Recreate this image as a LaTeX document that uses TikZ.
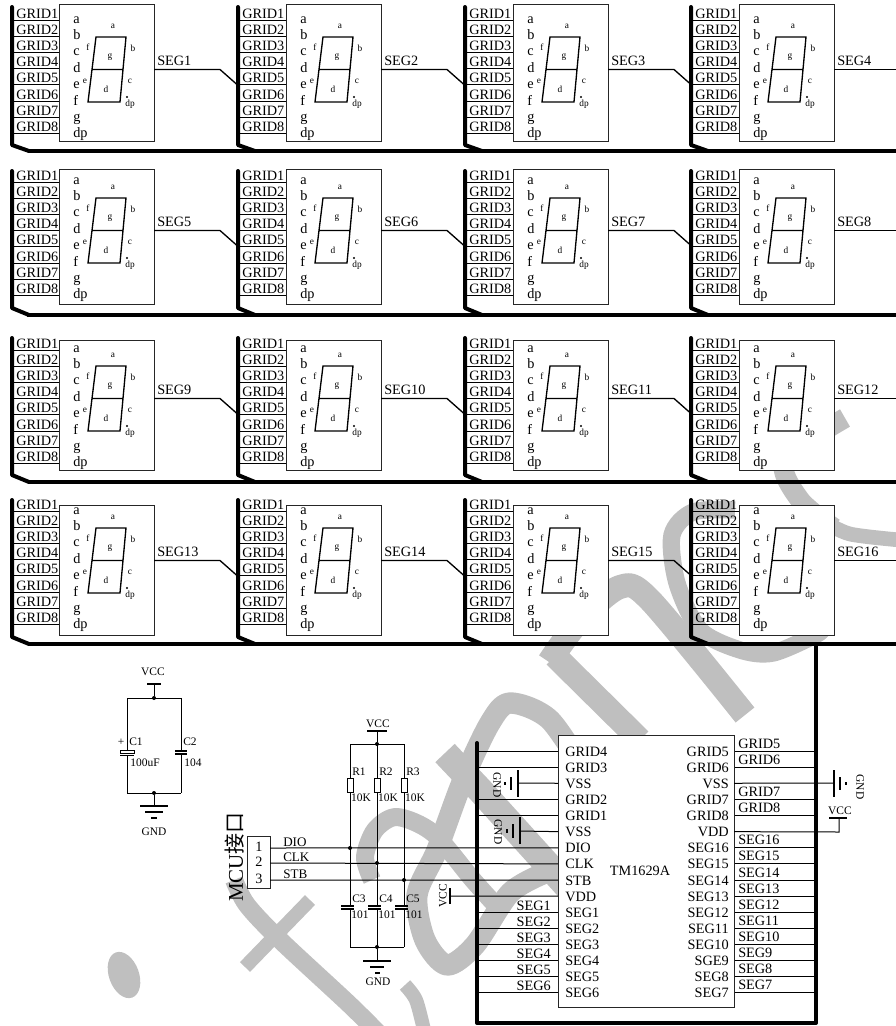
\documentclass[tikz,border=0pt]{standalone}
\usepackage{fontspec}
\setmainfont{Liberation Serif}
\newfontfamily\cjkfont{Noto Sans CJK SC}
\usetikzlibrary{calc,fit}
\definecolor{wmgray}{gray}{0.75}
\tikzset{
    wire/.style={line width=.75pt},
    busline/.style={line width=3pt,line join=round,line cap=round},
    wmark/.style={line width=#1,draw=wmgray,line join=round},
    dispbox/.style={draw=black!85,fill=white,line width=.75pt,inner sep=0pt},
    lbl/.style={inner sep=0pt,font=\fontsize{10.7}{12}\selectfont},
    midlbl/.style={inner sep=0pt,font=\fontsize{9.8}{11}\selectfont},
    smalllbl/.style={inner sep=0pt,font=\fontsize{8.6}{10}\selectfont},
    seglbl/.style={inner sep=0pt,font=\fontsize{7}{8}\selectfont},
    jdot/.style={circle,fill=black,inner sep=0pt,minimum size=3pt}
}
\begin{document}
\begin{tikzpicture}[x=.75pt,y=-.75pt]
    \useasboundingbox (0,0) rectangle (896,1026);

    % watermark
    \fill[wmgray,rotate around={20:(124,975)}] (124,975) ellipse (15 and 24);
    \draw[wmark=13.5pt] plot[smooth] coordinates {(234,880) (247,905) (280,940) (350,1005) (385,1040)};
    \draw[wmark=10.5pt] (310,900) -- (245,967);
    \draw[wmark=10.5pt] plot[smooth] coordinates {(405,985) (416,1000) (424,1030)};
    \draw[wmark=16pt] plot[smooth] coordinates {(545,873) (510,893) (475,945) (447,965) (425,940) (417,895) (437,850) (463,780) (490,723) (510,703) (550,720) (590,780)};
    \draw[wmark=13.5pt] plot[smooth] coordinates {(372,880) (365,857) (375,830) (397,817) (433,833) (473,880) (500,910)};
    \draw[wmark=20pt] (445,753) -- (480,790) -- (575,895);
    \draw[wmark=18pt] plot[smooth] coordinates {(549,662) (580,620) (620,587) (650,600) (745,715)};
    \draw[wmark=18pt] (555,656) -- (640,740);
    \draw[wmark=13pt] plot[smooth] coordinates {(825,625) (817,634) (773,653) (740,650) (700,630) (677,583) (672,535) (693,512) (735,510)};
    \draw[wmark=15pt] plot[smooth] coordinates {(845,418) (785,460) (800,500) (834,528)};
    \draw[wmark=11pt] plot[smooth] coordinates {(825,522) (850,534) (900,540)};

    % row buses
    \foreach \hb/\hx in {151/28,315/27,482/30,644/28}
    {
        \coordinate (busl\hb) at (\hx,\hb);
        \coordinate (busr\hb) at (896,\hb);
        \draw[busline,line cap=butt] (busl\hb) -- (busr\hb);
    }

    % display modules
    \foreach \bt/\bb/\dy/\gy/\hb/\vt/\vb [count=\rr from 0] in {4/141/37/20/151/7/145,169/304/198/182/315/171/308,340/470/366/350/482/338/475,505/635/528/511/644/500/637}
    {
        \foreach \bx/\vx [count=\cc from 1] in {59/12,286/238,513/465,739/691}
        {
            \pgfmathtruncatemacro{\n}{\rr*4+\cc}
            \coordinate (vtop\n) at (\vx,\vt);
            \coordinate (vbot\n) at (\vx,\vb);
            \coordinate (vend\n) at (\vx+17,\hb);
            \draw[busline] (vtop\n) -- (vbot\n) -- (vend\n);
            \coordinate (bul\n) at (\bx,\bt);
            \coordinate (blr\n) at (\bx+95,\bb);
            \foreach \g [count=\k from 0] in {1,...,8}
            {
                \coordinate (gs\n-\g) at (\vx,\gy+16.2*\k);
                \coordinate (ge\n-\g) at (\bx,\gy+16.2*\k);
                \draw[wire] (gs\n-\g) -- (ge\n-\g);
                \node[lbl,anchor=base west] (gl\n-\g) at (\vx+4,\gy+16.2*\k-2) {GRID\g};
            }
            \node[dispbox,fit=(bul\n)(blr\n)] (disp\n) {};
            \foreach \s [count=\k from 0] in {a,b,c,d,e,f,g,dp}
            {
                \node[lbl,anchor=base west] (pin\n-\k) at (\bx+14,\dy-14+16.4*\k) {\s};
            }
            % digit
            \draw[wire,line width=1pt]
                (\bx+37,\dy) -- (\bx+67,\dy) -- (\bx+61,\dy+65) -- (\bx+29,\dy+65) -- cycle
                (\bx+33,\dy+32.5) -- (\bx+64,\dy+32.5);
            \node[seglbl] (sa\n) at (\bx+54,\dy-11) {a};
            \node[seglbl] (sb\n) at (\bx+74,\dy+11) {b};
            \node[seglbl] (sf\n) at (\bx+29,\dy+10) {f};
            \node[seglbl] (sg\n) at (\bx+51,\dy+20) {g};
            \node[seglbl] (se\n) at (\bx+26,\dy+44) {e};
            \node[seglbl] (sc\n) at (\bx+71,\dy+44) {c};
            \node[seglbl] (sd\n) at (\bx+47,\dy+52) {d};
            \fill (\bx+68,\dy+60) circle (1.1);
            \node[seglbl] (sp\n) at (\bx+71,\dy+67) {dp};
            % segment line
            \coordinate (segs\n) at (\bx+95,\dy+32.5);
            \node[lbl,anchor=base west] (segl\n) at (\bx+98,\dy+28.5) {SEG\n};
            \ifnum\cc<4
                \coordinate (segm\n) at (\bx+161,\dy+32.5);
                \coordinate (sege\n) at (\bx+178,\dy+47.5);
                \draw[wire,line width=1pt] (segs\n) -- (segm\n) -- (sege\n);
            \else
                \coordinate (sege\n) at (896,\dy+32.5);
                \draw[wire,line width=1pt] (segs\n) -- (sege\n);
            \fi
        }
    }

    % chip bus
    \coordinate (cb1) at (816,644);
    \coordinate (cb2) at (816,1023);
    \coordinate (cb3) at (477,1023);
    \coordinate (cb4) at (477,743);
    \draw[busline] (cb1) -- (cb2) -- (cb3) -- (cb4);

    % TM1629A
    \coordinate (chipa) at (558,735);
    \coordinate (chipb) at (734,1007);
    \foreach \k in {0,...,15}
    {
        \coordinate (pl\k) at (558,751+16.13*\k);
        \coordinate (pr\k) at (734,751+16.13*\k);
        \coordinate (bl\k) at (477,751+16.13*\k);
        \coordinate (br\k) at (815,751+16.13*\k);
    }
    \foreach \k in {0,1,3,4,10,11,12,13,14,15}
    {
        \draw[wire] (bl\k) -- (pl\k);
    }
    \foreach \k in {0,1,3,4,6,7,8,9,10,11,12,13,14,15}
    {
        \draw[wire] (pr\k) -- (br\k);
    }
    \node[dispbox,fit=(chipa)(chipb)] (chip) {};
    \node[lbl] (chipname) at (640,871) {TM1629A};
    \foreach \s [count=\k from 0] in {GRID4,GRID3,VSS,GRID2,GRID1,VSS,DIO,CLK,STB,VDD,SEG1,SEG2,SEG3,SEG4,SEG5,SEG6}
    {
        \node[lbl,anchor=base west] (il\k) at (565,756+16.13*\k) {\s};
    }
    \foreach \s [count=\k from 0] in {GRID5,GRID6,VSS,GRID7,GRID8,VDD,SEG16,SEG15,SEG14,SEG13,SEG12,SEG11,SEG10,SGE9,SEG8,SEG7}
    {
        \node[lbl,anchor=base east] (ir\k) at (729,756+16.13*\k) {\s};
    }
    \foreach \s/\k in {GRID5/0,GRID6/1,GRID7/3,GRID8/4,SEG16/6,SEG15/7,SEG14/8,SEG13/9,SEG12/10,SEG11/11,SEG10/12,SEG9/13,SEG8/14,SEG7/15}
    {
        \node[lbl,anchor=base west] (or\k) at (738,748+16.13*\k) {\s};
    }
    \foreach \s/\k in {SEG1/10,SEG2/11,SEG3/12,SEG4/13,SEG5/14,SEG6/15}
    {
        \node[lbl,anchor=base east] (ol\k) at (551,749+16.13*\k) {\s};
    }

    % ground and supply of the chip
    \coordinate (gl1) at (518,783);
    \coordinate (gl2) at (520,831);
    \coordinate (gr1) at (834,783);
    \draw[wire] (pl2) -- (gl1);
    \draw[wire] (pl5) -- (gl2);
    \draw[wire] (pr2) -- (gr1);
    \draw[wire,line width=1pt] (518,770) -- (518,797) (511,777) -- (511,790) (505,782) -- (505,785);
    \draw[wire,line width=1pt] (520,817) -- (520,844) (513,824) -- (513,838) (507,829) -- (507,833);
    \draw[wire,line width=1pt] (834,770) -- (834,797) (840,777) -- (840,790) (846,782) -- (846,785);
    \node[smalllbl,rotate=-90] (gndl1) at (497,785) {GND};
    \node[smalllbl,rotate=-90] (gndl2) at (498,832) {GND};
    \node[smalllbl,rotate=-90] (gndr) at (860,787) {GND};
    \coordinate (vddc) at (839,832);
    \coordinate (vddt) at (839,818);
    \draw[wire] (pr5) -- (vddc) -- (vddt);
    \draw[wire,line width=1pt] (829,818) -- (847,818);
    \node[smalllbl] (vccr) at (840,811) {VCC};
    \coordinate (vccb) at (450,896);
    \draw[wire] (pl9) -- (vccb);
    \draw[wire,line width=1pt] (450,888) -- (450,904);
    \node[smalllbl,rotate=90] (vccl) at (443,896) {VCC};

    % MCU header
    \coordinate (hdra) at (247,836);
    \coordinate (hdrb) at (270,888);
    \node[draw=black!85,fill=white,line width=.75pt,inner sep=0pt,fit=(hdra)(hdrb)] (hdr) {};
    \node[rotate=90,inner sep=0pt,font=\fontsize{15.7}{17}\selectfont] (mcu) at (235,857) {MCU{\cjkfont 接口}};
    \foreach \i/\s/\y/\k in {1/DIO/848/6,2/CLK/863/7,3/STB/880/8}
    {
        \coordinate (hp\i) at (270,\y);
        \draw[wire] (hp\i) -- (pl\k);
        \node[lbl] (hn\i) at (259,\y-1) {\i};
        \node[midlbl,anchor=base west] (hl\i) at (283,\y-2) {\s};
    }

    % pull-ups and filter caps
    \coordinate (rtop1) at (350,744);
    \coordinate (rtop3) at (404,744);
    \coordinate (cbot1) at (350,947);
    \coordinate (cbot3) at (404,947);
    \draw[wire] (rtop1) -- (rtop3);
    \draw[wire] (cbot1) -- (cbot3);
    \foreach \x/\y/\r/\c in {350/848/R1/C3,377/863/R2/C4,404/880/R3/C5}
    {
        \node[draw,fill=white,line width=.75pt,inner sep=0pt,minimum width=4.5pt,minimum height=10.5pt] (\r) at (\x,785) {};
        \coordinate (\c t) at (\x,906);
        \coordinate (\c b) at (\x,909);
        \draw[wire] (\x,744) -- (\r.north);
        \draw[wire] (\r.south) -- (\c t);
        \draw[wire] (\c b) -- (\x,947);
        \draw[wire,line width=1pt] (\x-9,906) -- (\x+4,906) (\x-9,909) -- (\x+4,909);
        \node[smalllbl] (\r l) at (\x+9,772) {\r};
        \node[smalllbl] (\r v) at (\x+11,798) {10K};
        \node[smalllbl] (\c l) at (\x+9,899) {\c};
        \node[smalllbl] (\c v) at (\x+10,915) {101};
    }
    \node[jdot] (j1) at (350,848) {};
    \node[jdot] (j2) at (377,863) {};
    \node[jdot] (j3) at (404,880) {};
    \node[jdot] (j4) at (377,744) {};
    \node[jdot] (j5) at (377,947) {};
    \coordinate (vccp) at (377,731);
    \coordinate (gndp) at (377,961);
    \draw[wire] (j4) -- (vccp);
    \draw[wire] (j5) -- (gndp);
    \draw[wire,line width=1pt] (367,731) -- (387,731);
    \node[smalllbl] (vccm) at (378,724) {VCC};
    \draw[wire,line width=1pt] (363,961) -- (391,961) (370,967) -- (384,967) (375,973) -- (380,973);
    \node[smalllbl] (gndm) at (378,982) {GND};

    % C1 and C2
    \coordinate (cla) at (127,698);
    \coordinate (clb) at (181,793);
    \draw[wire] (cla) -- (clb |- cla);
    \draw[wire] (cla |- clb) -- (clb);
    \coordinate (c1t) at (127,750);
    \coordinate (c1b) at (127,755);
    \coordinate (c2t) at (181,751);
    \coordinate (c2b) at (181,754);
    \draw[wire] (cla) -- (c1t);
    \draw[wire] (c1b) -- (cla |- clb);
    \draw[wire] (clb |- cla) -- (c2t);
    \draw[wire] (c2b) -- (clb);
    \draw[line width=.7pt,fill=white] (120,750) rectangle (134,753);
    \draw[wire,line width=1.2pt] (120,755.5) -- (134,755.5);
    \draw[wire,line width=1pt] (175,751) -- (187,751) (175,754) -- (187,754);
    \node[smalllbl] (plus) at (121,742) {+};
    \node[smalllbl] (c1l) at (136,742) {C1};
    \node[smalllbl] (c1v) at (145,763) {100uF};
    \node[smalllbl] (c2l) at (190,742) {C2};
    \node[smalllbl] (c2v) at (193,763) {104};
    \node[jdot] (j6) at (154,698) {};
    \node[jdot] (j7) at (154,793) {};
    \coordinate (vcct) at (154,684);
    \coordinate (gndt) at (154,806);
    \draw[wire] (j6) -- (vcct);
    \draw[wire] (j7) -- (gndt);
    \draw[wire,line width=1pt] (147,684) -- (161,684);
    \node[smalllbl] (vcc2) at (153,672) {VCC};
    \draw[wire,line width=1pt] (140,806) -- (168,806) (145,812) -- (163,812) (151,818) -- (157,818);
    \node[smalllbl] (gnd2) at (154,832) {GND};
\end{tikzpicture}
\end{document}
